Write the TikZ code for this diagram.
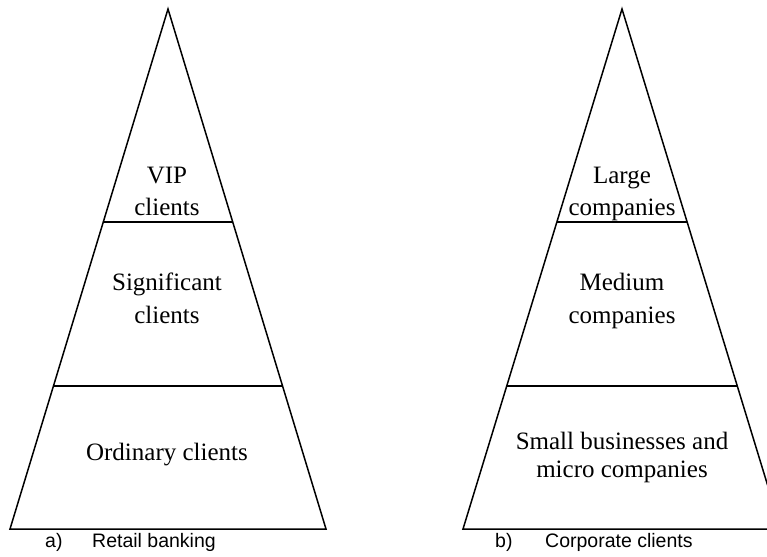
\documentclass[tikz,border=0pt]{standalone}
\usepackage{fontspec}
\setmainfont{Liberation Serif}
\newfontfamily\capfont{Liberation Sans}
\usetikzlibrary{calc}
\begin{document}
\begin{tikzpicture}[x=1pt,y=-1pt,
  edge/.style={line width=1.5pt, line join=miter},
  lbl/.style={anchor=base, inner sep=0pt, font=\fontsize{25}{28}\selectfont},
  captxt/.style={anchor=base west, inner sep=0pt, font=\capfont\fontsize{19.5}{22}\selectfont}]
\useasboundingbox (0,0) rectangle (767,556);
\clip (0,0) rectangle (767,556);
% left pyramid
\coordinate (LA) at (168,9);
\coordinate (LL) at (10,529);
\coordinate (LR) at (326,529);
\draw[edge] (LA) -- (LL) -- (LR) -- cycle;
\draw[edge] ($(LA)!0.4096!(LL)$) -- ($(LA)!0.4096!(LR)$);
\draw[edge] ($(LA)!0.725!(LL)$) -- ($(LA)!0.725!(LR)$);
\node[lbl] (l1a) at (167,183) {VIP};
\node[lbl] (l1b) at (167,215) {clients};
\node[lbl] (l2a) at (167,290) {Significant};
\node[lbl] (l2b) at (167,323) {clients};
\node[lbl] (l3a) at (167,460) {Ordinary clients};
% right pyramid
\coordinate (RA) at (622,9);
\coordinate (RL) at (463,529);
\coordinate (RR) at (781,529);
\draw[edge] (RA) -- (RL) -- (RR) -- cycle;
\draw[edge] ($(RA)!0.4096!(RL)$) -- ($(RA)!0.4096!(RR)$);
\draw[edge] ($(RA)!0.725!(RL)$) -- ($(RA)!0.725!(RR)$);
\node[lbl] (r1a) at (622,183) {Large};
\node[lbl] (r1b) at (622,215) {companies};
\node[lbl] (r2a) at (622,290) {Medium};
\node[lbl] (r2b) at (622,323) {companies};
\node[lbl] (r3a) at (622,449) {Small businesses and};
\node[lbl] (r3b) at (622,477) {micro companies};
% captions
\node[captxt] (ca) at (45,547) {a)};
\node[captxt] (cat) at (92,547) {Retail banking};
\node[captxt] (cb) at (495,547) {b)};
\node[captxt] (cbt) at (545,547) {Corporate clients};
\end{tikzpicture}
\end{document}
